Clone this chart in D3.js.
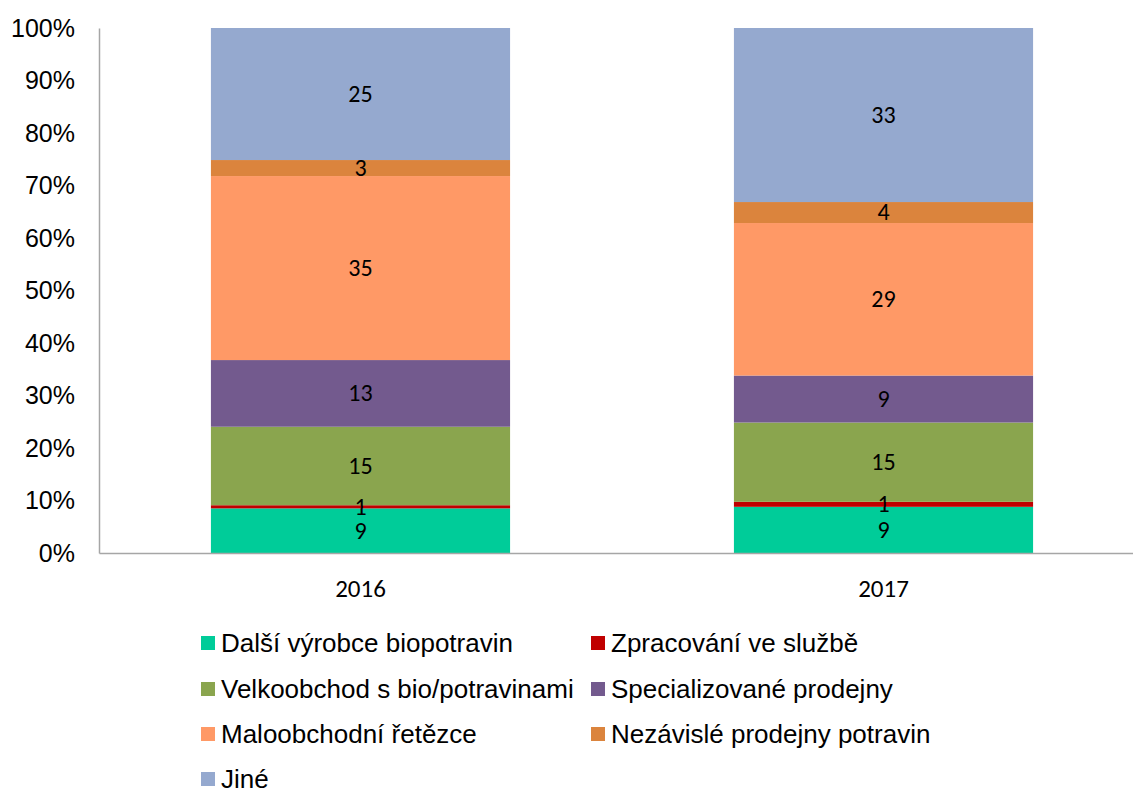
<!DOCTYPE html>
<html><head><meta charset="utf-8">
<script src="https://cdn.jsdelivr.net/npm/d3@7"></script>
<style>body{margin:0;background:#fff}</style>
</head><body>
<svg id="c" width="1133" height="791"></svg>
<script>
const categories = ["2016", "2017"];
const seriesNames = ["Další výrobce biopotravin", "Zpracování ve službě", "Velkoobchod s bio/potravinami", "Specializované prodejny", "Maloobchodní řetězce", "Nezávislé prodejny potravin", "Jiné"];
const seriesColors = ["#00CC99", "#C00000", "#8AA54E", "#735A8E", "#FF9966", "#DB843D", "#95A9CF"];
// percentage shares per category
const values2016 = [8.5, 0.6, 14.95, 12.7, 35.05, 3.05, 25.15];
const values2017 = [8.8, 0.95, 15.1, 8.95, 29.05, 4.0, 33.15];
// data labels shown
const labels2016 = ["9", "1", "15", "13", "35", "3", "25"];
const labels2017 = ["9", "1", "15", "9", "29", "4", "33"];
const yTicks = [0, 10, 20, 30, 40, 50, 60, 70, 80, 90, 100];

const svg = d3.select("#c");
const x0 = 99, x1 = 1145, yB = 553, yT = 28;
const x = d3.scaleBand().domain(categories).range([x0, x1]).paddingInner(0.428).paddingOuter(0.214);
const y = d3.scaleLinear().domain([0, 100]).range([yB, yT]);

const rows = categories.map((c, i) => {
  const vals = i === 0 ? values2016 : values2017;
  const labs = i === 0 ? labels2016 : labels2017;
  const tot = d3.sum(vals);
  let acc = 0;
  return vals.map((v, j) => {
    const p = v / tot * 100;
    const seg = {cat: c, s: j, y0: acc, y1: acc + p, label: labs[j]};
    acc += p;
    return seg;
  });
}).flat();

svg.append("g").selectAll("rect").data(rows).join("rect")
  .attr("x", d => x(d.cat))
  .attr("width", x.bandwidth())
  .attr("y", d => y(d.y1))
  .attr("height", d => y(d.y0) - y(d.y1))
  .attr("fill", d => seriesColors[d.s]);

svg.append("g").selectAll("text").data(rows).join("text")
  .attr("x", d => x(d.cat) + x.bandwidth() / 2)
  .attr("y", d => (y(d.y0) + y(d.y1)) / 2)
  .attr("dy", "0.33em")
  .attr("text-anchor", "middle")
  .attr("font-family", "Carlito, 'Open Sans', 'Noto Sans', sans-serif")
  .attr("font-size", 24)
  .attr("fill", "#000")
  .text(d => d.label);

// axes
const yAxis = svg.append("g").attr("transform", `translate(${x0},0)`)
  .call(d3.axisLeft(y).tickValues(yTicks).tickSize(0).tickPadding(24).tickFormat(d => d + "%"));
yAxis.select(".domain").attr("stroke", "#a6a6a6").attr("stroke-width", 1.5);
yAxis.selectAll("text").attr("font-family", "'Liberation Sans', Arial, sans-serif").attr("font-size", 25).attr("fill", "#000");

const xAxis = svg.append("g").attr("transform", `translate(0,${yB})`)
  .call(d3.axisBottom(x).tickSize(0).tickPadding(26));
xAxis.select(".domain").attr("stroke", "#a6a6a6").attr("stroke-width", 1.5);
xAxis.selectAll("text").attr("font-family", "Carlito, 'Open Sans', 'Noto Sans', sans-serif").attr("font-size", 25).attr("fill", "#000");

// legend
const legX = [201, 591], legY = [643, 689, 734, 779];
const leg = svg.append("g").selectAll("g").data(seriesNames).join("g")
  .attr("transform", (d, i) => `translate(${legX[i % 2]},${legY[Math.floor(i / 2)]})`);
leg.append("rect").attr("x", 0).attr("y", -7).attr("width", 14).attr("height", 14).attr("fill", (d, i) => seriesColors[i]);
leg.append("text").attr("x", 20).attr("dy", "0.36em")
  .attr("font-family", "'Liberation Sans', Arial, sans-serif").attr("font-size", 26).attr("fill", "#000")
  .text(d => d);
</script>
</body></html>
